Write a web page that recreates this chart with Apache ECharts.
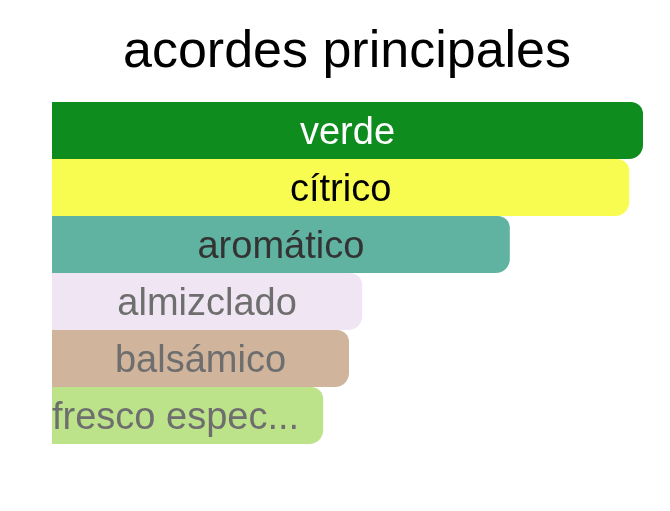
<!DOCTYPE html>
<html>
<head>
<meta charset="utf-8">
<script src="https://cdn.jsdelivr.net/npm/echarts@6/dist/echarts.min.js"></script>
<style>
  html, body { margin: 0; padding: 0; background: #fff; }
  #chart { width: 670px; height: 511px; }
</style>
</head>
<body>
<div id="chart"></div>
<script>
// accords, top to bottom
var accords = ['verde', 'cítrico', 'aromático', 'almizclado', 'balsámico', 'fresco especiado'];
var strengths = [98.5, 96.2, 76.3, 51.7, 49.5, 45.2];
var barColors = ['#0e8c1e', '#f8fc50', '#5fb3a0', '#f0e6f3', '#d0b49c', '#bde38a'];
var textColors = ['#ffffff', '#000000', '#333333', '#6e6e6e', '#6e6e6e', '#6e6e6e'];

var chart = echarts.init(document.getElementById('chart'));

var gridLeft = 52, gridWidth = 600, axisMax = 100;
var labelFont = 'Liberation Sans, Arial, sans-serif';

// rough text width check, so long names get cut and pushed to the left edge like the original
var ctx = document.createElement('canvas').getContext('2d');
ctx.font = '38px ' + labelFont;

var data = [];
for (var i = 0; i < accords.length; i++) {
  var barPx = strengths[i] / axisMax * gridWidth;
  var tooLong = ctx.measureText(accords[i]).width > barPx - 10;
  data.push({
    value: strengths[i],
    name: accords[i],
    itemStyle: { color: barColors[i] },
    label: {
      color: textColors[i],
      position: tooLong ? 'insideLeft' : 'inside',
      distance: 0,
      width: tooLong ? barPx - 22 : barPx,
      overflow: 'truncate'
    }
  });
}

chart.setOption({
  backgroundColor: '#ffffff',
  animation: false,
  title: {
    text: 'acordes principales',
    left: 118,
    top: 22,
    textStyle: {
      fontFamily: labelFont,
      fontSize: 52,
      fontWeight: 'normal',
      color: '#000000'
    }
  },
  grid: { left: gridLeft, top: 102, width: gridWidth, bottom: 67 },
  xAxis: { type: 'value', min: 0, max: axisMax, show: false },
  yAxis: {
    type: 'category',
    data: accords,
    inverse: true,
    show: false
  },
  series: [{
    type: 'bar',
    data: data,
    barCategoryGap: '0%',
    itemStyle: { borderRadius: [0, 12, 14, 0] },
    label: {
      show: true,
      formatter: '{b}',
      offset: [0, 3],
      fontFamily: labelFont,
      fontSize: 38
    }
  }]
});
</script>
</body>
</html>
